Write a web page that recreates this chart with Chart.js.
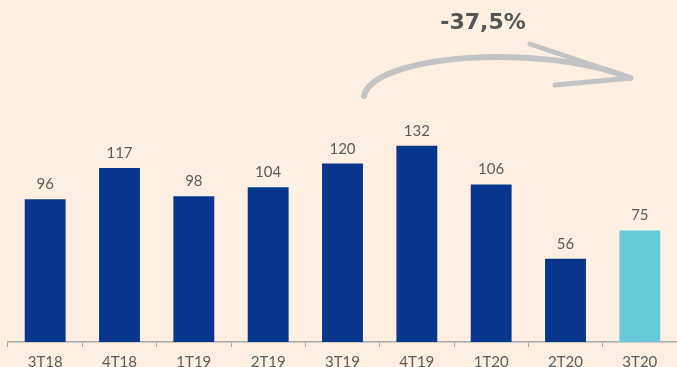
<!DOCTYPE html>
<html lang="es">
<head>
	<meta charset="UTF-8">
	<title>trimestres</title>
	<script src="https://cdn.jsdelivr.net/npm/chart.js@4"></script>
	<style>
		html, body { margin: 0; padding: 0; background: #fdf0e2; }
		#wrap { width: 677px; height: 367px; }
	</style>
</head>
<body>
<div id="wrap"><canvas id="myChart" width="677" height="367"></canvas></div>
<script>
	const quarters = ['3T18', '4T18', '1T19', '2T19', '3T19', '4T19', '1T20', '2T20', '3T20'];
	const values = [96, 117, 98, 104, 120, 132, 106, 56, 75];
	const barColors = ['#07368c', '#07368c', '#07368c', '#07368c', '#07368c', '#07368c', '#07368c', '#07368c', '#66cad8'];
	const changeText = '-37,5%';

	// numbers above bars + the hand drawn arrow
	const extras = {
		id: 'extras',
		afterDatasetsDraw(chart) {
			const ctx = chart.ctx;
			const meta = chart.getDatasetMeta(0);
			ctx.save();
			ctx.fillStyle = '#5c5c5c';
			ctx.font = '15px Lato';
			ctx.textAlign = 'center';
			ctx.textBaseline = 'alphabetic';
			meta.data.forEach((bar, i) => {
				ctx.fillText(values[i], bar.x, bar.y - 10);
			});

			// arrow
			ctx.strokeStyle = '#c2c3c4';
			ctx.lineCap = 'round';
			ctx.lineWidth = 6;
			ctx.beginPath();
			ctx.moveTo(364, 96);
			ctx.bezierCurveTo(372, 55, 540, 42, 630, 78);
			ctx.stroke();
			ctx.lineWidth = 5;
			ctx.beginPath();
			ctx.moveTo(530, 44);
			ctx.lineTo(631, 78);
			ctx.moveTo(555, 85);
			ctx.lineTo(631, 78);
			ctx.stroke();

			ctx.fillStyle = '#555555';
			ctx.font = 'bold 22px "DejaVu Sans"';
			ctx.fillText(changeText, 483, 29);
			ctx.restore();
		}
	};

	const ctx = document.getElementById('myChart').getContext('2d');
	const myChart = new Chart(ctx, {
		type: 'bar',
		data: {
			labels: quarters,
			datasets: [{
				data: values,
				backgroundColor: barColors,
				borderWidth: 0,
				categoryPercentage: 1,
				barPercentage: 0.55
			}]
		},
		options: {
			responsive: false,
			animation: false,
			layout: { padding: { left: 8, right: 0, top: 0, bottom: 0 } },
			plugins: { legend: { display: false }, tooltip: { enabled: false } },
			scales: {
				y: { display: false, min: 0, max: 230 },
				x: {
					afterFit(scale) { scale.height = 25; },
					grid: { drawOnChartArea: false, drawTicks: true, tickLength: 5, color: '#a8a8a8' },
					border: { color: '#a8a8a8', width: 1.5 },
					ticks: { color: '#5c5c5c', font: { family: 'Lato', size: 15 }, padding: 6, maxRotation: 0 }
				}
			}
		},
		plugins: [extras]
	});
</script>
</body>
</html>
